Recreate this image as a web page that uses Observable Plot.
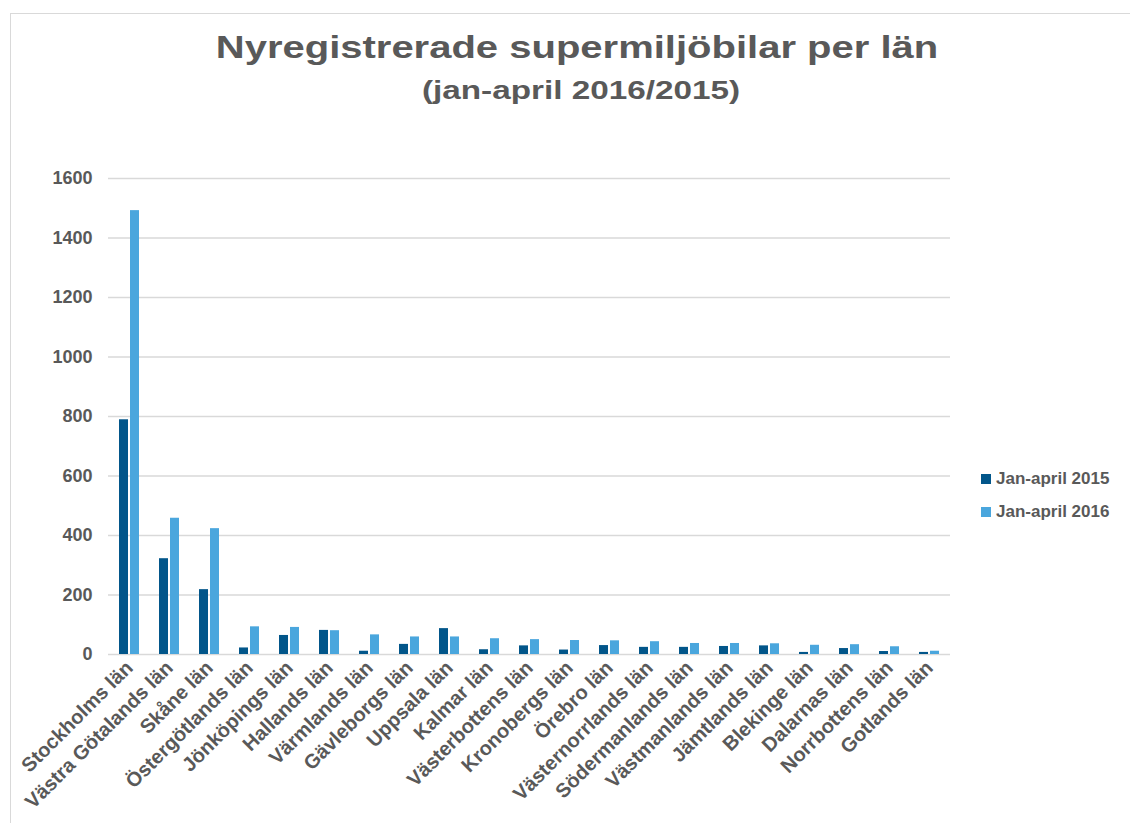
<!DOCTYPE html>
<html><head><meta charset="utf-8">
<script src="https://cdn.jsdelivr.net/npm/d3@7"></script>
<script src="https://cdn.jsdelivr.net/npm/@observablehq/plot@0.6"></script>
<style>
body{margin:0;width:1130px;height:823px;overflow:hidden;background:#fff;font-family:"Liberation Sans",Arial,sans-serif;position:relative}
#frame{position:absolute;left:10px;top:13px;width:1200px;height:900px;border:1px solid #d9d9d9;box-sizing:border-box}
#title{position:absolute;left:0;width:1154px;top:31px;text-align:center;font-size:32px;font-weight:bold;color:#595959;line-height:1;transform:scaleX(1.25);transform-origin:577px 0}
#subtitle{position:absolute;left:0;width:1162px;top:77px;text-align:center;font-size:26px;font-weight:bold;color:#595959;line-height:1;transform:scaleX(1.28);transform-origin:581px 0}
#chart{position:absolute;left:0;top:120px}
#legend{position:absolute;left:981px;top:462px;font-size:17px;font-weight:bold;color:#595959}
.item{display:flex;align-items:center;height:33px}
.sw{width:10px;height:10px;margin-right:5px}
</style>
</head><body>
<div id="frame"></div>
<div id="title">Nyregistrerade supermiljöbilar per län</div>
<div id="subtitle">(jan-april 2016/2015)</div>
<div id="chart"></div>
<div id="legend"></div>
<script>
const regions = ["Stockholms län","Västra Götalands län","Skåne län","Östergötlands län","Jönköpings län","Hallands län","Värmlands län","Gävleborgs län","Uppsala län","Kalmar län","Västerbottens län","Kronobergs län","Örebro län","Västernorrlands län","Södermanlands län","Västmanlands län","Jämtlands län","Blekinge län","Dalarnas län","Norrbottens län","Gotlands län"];
const jan2015 = [789,322,218,22,64,81,11,34,87,16,29,15,30,24,24,27,29,7,20,10,7];
const jan2016 = [1492,458,423,93,91,80,66,59,59,53,50,47,46,43,37,37,36,31,33,26,11];
const seriesNames = ["Jan-april 2015","Jan-april 2016"];
const seriesColors = ["#02568a","#4aa6dd"];
const yTicks = [0,200,400,600,800,1000,1200,1400,1600];

const d15 = regions.map((r,i)=>({region:r, series:seriesNames[0], value:jan2015[i]}));
const d16 = regions.map((r,i)=>({region:r, series:seriesNames[1], value:jan2016[i]}));

const plot = Plot.plot({
  width:1130, height:703,
  marginTop:58, marginBottom:169, marginLeft:108, marginRight:180,
  style:{fontFamily:'"Liberation Sans",Arial,sans-serif', fontSize:"18px", fontWeight:"bold", color:"#595959", background:"transparent", overflow:"visible"},
  x:{domain:regions, paddingInner:0.5, paddingOuter:0.25, label:null},
  y:{domain:[0,1600], label:null},
  color:{domain:seriesNames, range:seriesColors},
  marks:[
    Plot.ruleY(yTicks,{stroke:"#d9d9d9", strokeWidth:1.3}),
    Plot.barY(d15,{x:"region", y:"value", fill:"series", insetRight:11}),
    Plot.barY(d16,{x:"region", y:"value", fill:"series", insetLeft:11}),
    Plot.axisY({ticks:yTicks, tickFormat:d=>String(d), tickSize:0, tickPadding:16, label:null, fontSize:18, fontWeight:"bold"}),
    Plot.axisX({tickRotate:-45, tickSize:0, tickPadding:10, label:null, fontSize:20, fontWeight:"bold"})
  ]
});
document.getElementById("chart").appendChild(plot);

const lg = document.getElementById("legend");
seriesNames.forEach((n,i)=>{
  const it = document.createElement("div"); it.className="item";
  const sw = document.createElement("div"); sw.className="sw"; sw.style.background=seriesColors[i];
  const t = document.createElement("span"); t.textContent=n;
  it.appendChild(sw); it.appendChild(t); lg.appendChild(it);
});
</script>
</body></html>
